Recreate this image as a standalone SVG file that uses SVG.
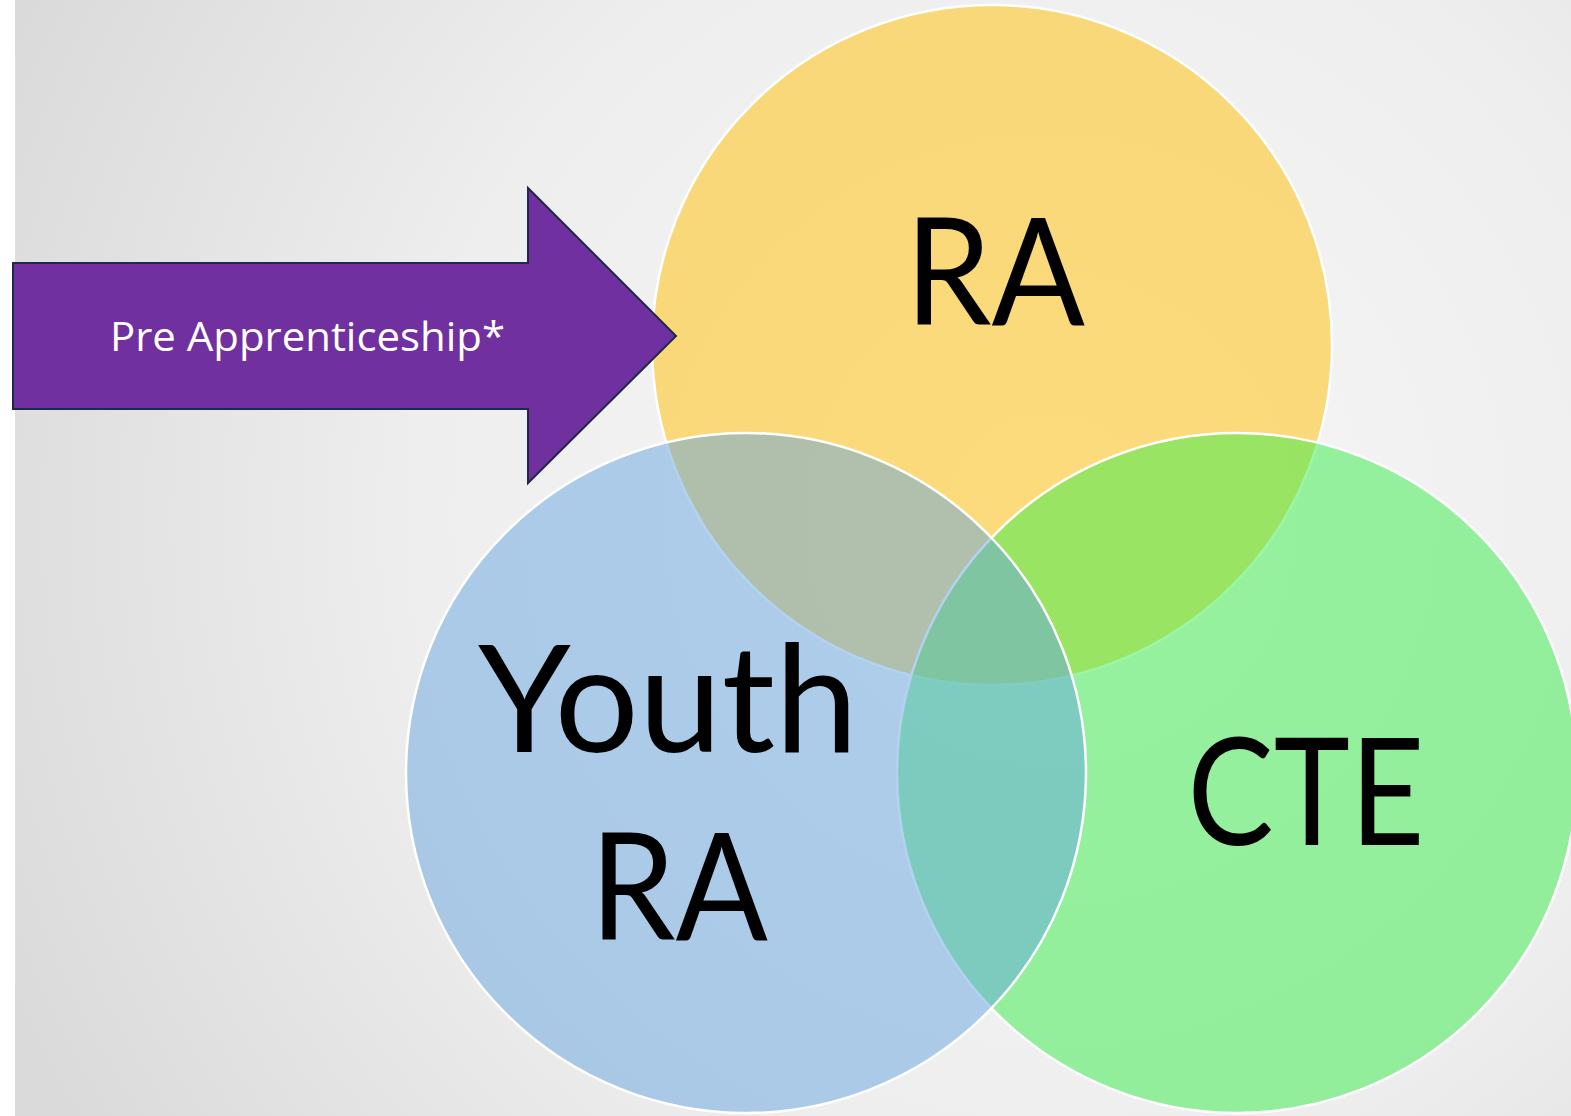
<svg xmlns="http://www.w3.org/2000/svg" width="1571" height="1116" viewBox="0 0 1571 1116">
<defs>
<radialGradient id="bg" gradientUnits="userSpaceOnUse" cx="1050" cy="520" r="1150">
<stop offset="0" stop-color="#f7f7f7"/>
<stop offset="0.55" stop-color="#eeeeee"/>
<stop offset="1" stop-color="#dadada"/>
</radialGradient>
<style>
.circ{stroke:#ffffff;stroke-width:2.5;fill-opacity:0.5}
.big{font-family:Lato,"Open Sans","Liberation Sans",Arial,sans-serif;font-size:150px;fill:#000000}
.lab{font-family:"Open Sans","Liberation Sans",Arial,sans-serif;font-size:41px;fill:#ffffff}
</style>
</defs>
<rect x="0" y="0" width="1571" height="1116" fill="#ffffff"/>
<rect x="15" y="0" width="1556" height="1116" fill="url(#bg)"/>
<g id="node-ra">
<circle class="circ" cx="992" cy="345" r="340" fill="#ffc000"/>
</g>
<g id="node-cte">
<circle class="circ" cx="1237" cy="773" r="340" fill="#38ee4a"/>
</g>
<g id="node-youth">
<circle class="circ" cx="746" cy="773" r="340" fill="#66a6e0"/>
</g>
<g id="labels">
<text class="big" x="995" y="325" text-anchor="middle" textLength="180" lengthAdjust="spacingAndGlyphs">RA</text>
<text class="big" x="668" y="752" text-anchor="middle" textLength="380" lengthAdjust="spacingAndGlyphs">Youth</text>
<text class="big" x="679" y="940" text-anchor="middle" textLength="178" lengthAdjust="spacingAndGlyphs">RA</text>
<text class="big" x="1306" y="845" text-anchor="middle" textLength="237" lengthAdjust="spacingAndGlyphs">CTE</text>
</g>
<g id="node-pre">
<polygon points="13,263 528,263 528,188 676,336 528,483 528,409 13,409" fill="#7030a0" stroke="#1f2a4a" stroke-width="2"/>
<text class="lab" x="110" y="351" textLength="395" lengthAdjust="spacingAndGlyphs">Pre Apprenticeship*</text>
</g>
<g id="connectors"/>
</svg>
